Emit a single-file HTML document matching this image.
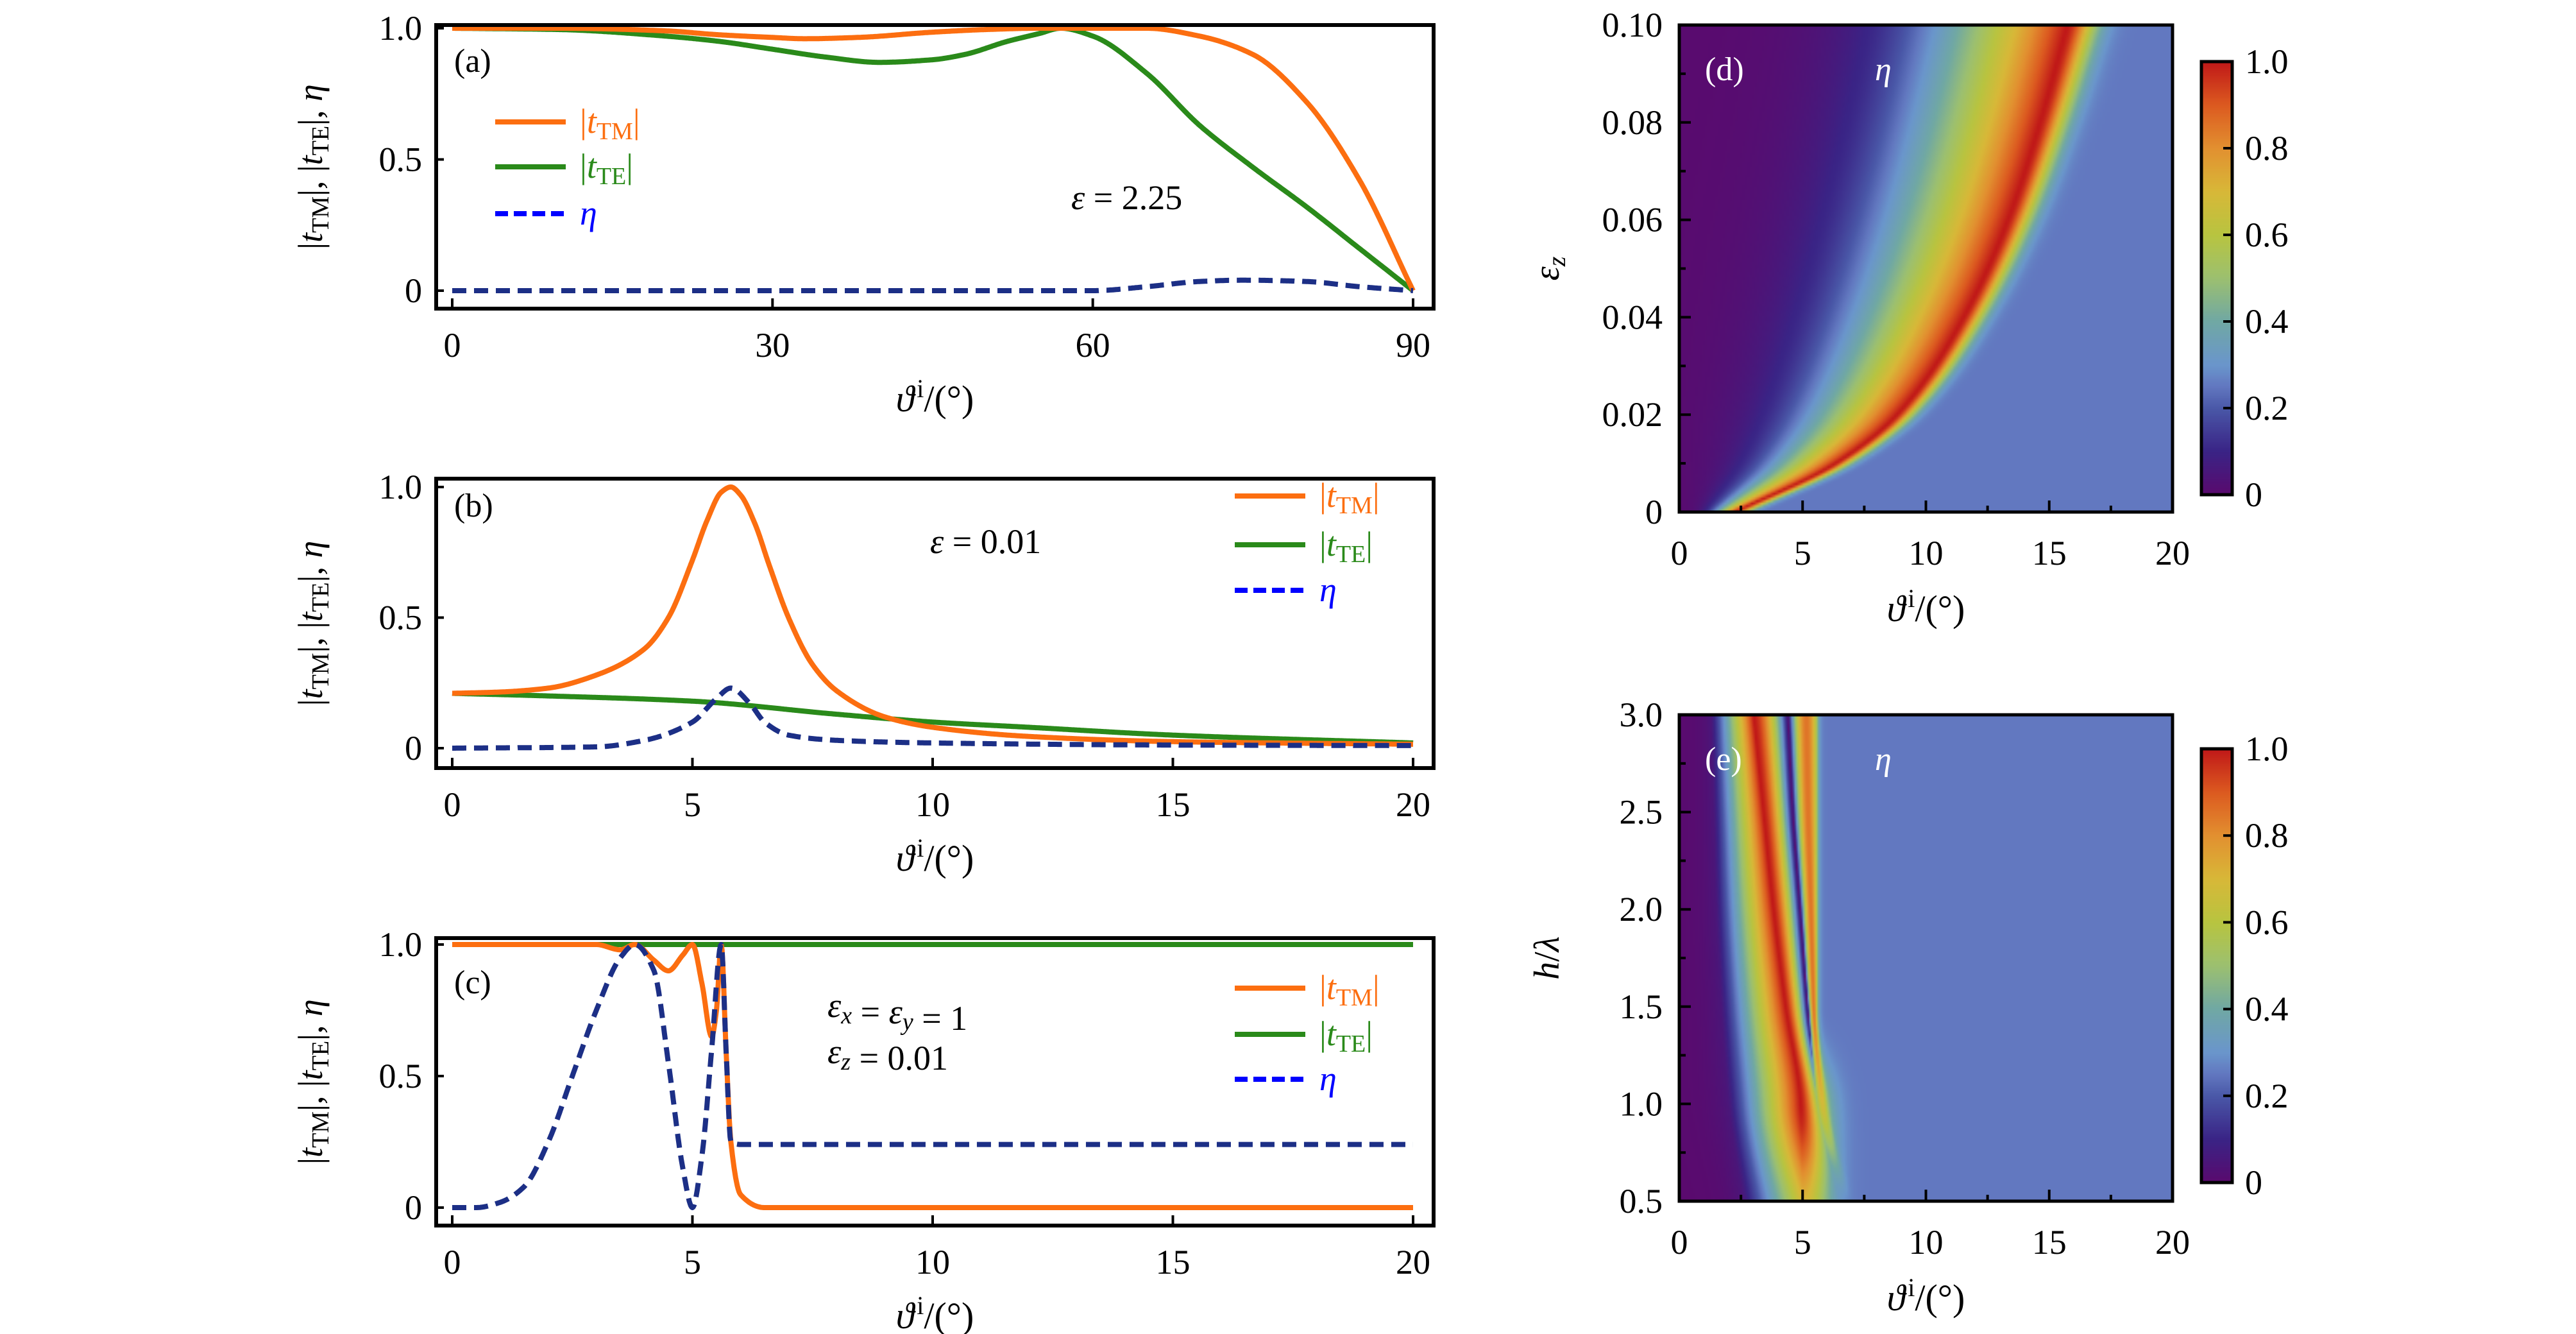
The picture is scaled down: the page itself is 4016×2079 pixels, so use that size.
<!DOCTYPE html>
<html><head><meta charset="utf-8">
<style>
html,body{margin:0;padding:0;background:#fff;}
#wrap{position:relative;width:4016px;height:2079px;overflow:hidden;background:#fff;}
canvas{position:absolute;image-rendering:auto;}
svg{position:absolute;left:0;top:0;}
text{font-family:"Liberation Serif",serif;}
</style></head>
<body>
<div id="wrap">
<canvas id="cd" width="200" height="200"></canvas>
<canvas id="ce" width="300" height="200"></canvas>
<canvas id="cbd" width="4" height="200"></canvas>
<canvas id="cbe" width="4" height="200"></canvas>
<svg id="svg" width="4016" height="2079" xmlns="http://www.w3.org/2000/svg"></svg>
</div>
<script>
// ---------- data ----------
const aX   = [0,10,20,25,30,33,38,45,50,55,60,65,70,75,80,85,90];
const aTM  = [1,1,0.99,0.975,0.965,0.96,0.965,0.985,0.995,1,1,1,0.97,0.9,0.72,0.42,0];
const aTEx = [0,10,20,25,30,35,40,45,48,52,55,57,60,65,70,75,80,85,90];
const aTE  = [1,0.995,0.97,0.95,0.92,0.89,0.87,0.88,0.9,0.95,0.98,1.0,0.97,0.83,0.63,0.47,0.32,0.16,0];
const aEtaX= [0,30,60,65,70,74,80,85,90];
const aEta = [0,0,0,0.015,0.035,0.04,0.035,0.015,0];

const bX   = [0,1,2,3,4,4.5,5,5.3,5.6,5.8,6,6.3,6.6,7,7.5,8,9,10,12,15,20];
const bTM  = [0.21,0.215,0.23,0.28,0.38,0.5,0.72,0.87,0.98,1.0,0.97,0.86,0.7,0.5,0.32,0.22,0.12,0.08,0.045,0.025,0.015];
const bTEx = [0,2,5,8,10,12,15,20];
const bTE  = [0.21,0.2,0.18,0.13,0.1,0.08,0.05,0.02];
const bEtaX= [0,3,4,5,5.5,5.8,6.2,6.5,7,8,10,15,20];
const bEta = [0,0.005,0.03,0.1,0.19,0.23,0.17,0.1,0.05,0.03,0.02,0.012,0.01];

const cX   = [0,3,3.5,3.8,4.2,4.5,4.8,5.0,5.2,5.4,5.5,5.6,5.7,5.8,6.0,6.5,20];
const cTM  = [1,1,0.98,1.0,0.94,0.9,0.96,1.0,0.85,0.65,0.75,1.0,0.6,0.25,0.05,0,0];
const cTEx = [0,20];
const cTE  = [1,1];
const cEtaX= [0,0.5,1,1.5,2,2.5,3,3.5,3.8,4.2,4.5,4.8,5.0,5.2,5.4,5.6,5.7,5.8,6,20];
const cEta = [0,0,0.02,0.08,0.25,0.5,0.75,0.95,1.0,0.9,0.55,0.15,0,0.2,0.6,1.0,0.6,0.25,0.24,0.24];

// heatmap d: ridge (red) position and left dark edge per eps_z row
const dEps   = [0,0.01,0.02,0.04,0.06,0.08,0.10];
const dRidge = [2.2,6.3,8.8,11.5,13.3,14.6,15.7];
const dLeft  = [1.0,2.4,3.3,4.6,5.7,6.7,7.6];
// heatmap e: per h/lambda row
const eH     = [0.5,1.0,1.5,2.0,2.5,3.0];
const eRidge = [5.0,4.9,4.3,3.8,3.4,3.0];
const eLeft  = [2.6,2.0,1.7,1.5,1.4,1.3];
const eNotch = [6.5,5.6,5.2,4.9,4.6,4.4];
const eDepth = [0,0.3,1,1,1,1];
const ePeak  = [0.7,1.0,1.0,1.0,1.0,1.0];
const eCut   = [7.0,6.0,5.6,5.6,5.6,5.6];

const cmapV = [0,0.1,0.2,0.25,0.3,0.4,0.5,0.6,0.7,0.8,0.9,1.0];
const cmapC = ['#5a0a6e','#3a2486','#4a58a8','#6278c0','#6a96cc','#70a8a4','#9cc070','#b8c440','#d8b838','#e29030','#dc5a20','#c01818'];

// ---------- helpers ----------
const NS='http://www.w3.org/2000/svg';
const svg=document.getElementById('svg');
function el(tag,attrs,parent){const e=document.createElementNS(NS,tag);for(const k in attrs)e.setAttribute(k,attrs[k]);(parent||svg).appendChild(e);return e;}
// monotone cubic (Fritsch-Carlson) interpolation
function mono(xs,ys){
  const n=xs.length;if(n<3)return x=>{if(x<=xs[0])return ys[0];if(x>=xs[n-1])return ys[n-1];const t=(x-xs[0])/(xs[1]-xs[0]);return ys[0]+t*(ys[1]-ys[0]);};
  const d=[],m=[];for(let i=0;i<n-1;i++)d.push((ys[i+1]-ys[i])/(xs[i+1]-xs[i]));
  m[0]=d[0];m[n-1]=d[n-2];
  for(let i=1;i<n-1;i++){if(d[i-1]*d[i]<=0)m[i]=0;else{const w1=2*(xs[i+1]-xs[i])+(xs[i]-xs[i-1]),w2=(xs[i+1]-xs[i])+2*(xs[i]-xs[i-1]);m[i]=(w1+w2)/(w1/d[i-1]+w2/d[i]);}}
  return x=>{if(x<=xs[0])return ys[0];if(x>=xs[n-1])return ys[n-1];let i=0;while(x>xs[i+1])i++;
    const h=xs[i+1]-xs[i],t=(x-xs[i])/h,t2=t*t,t3=t2*t;
    return (2*t3-3*t2+1)*ys[i]+(t3-2*t2+t)*h*m[i]+(-2*t3+3*t2)*ys[i+1]+(t3-t2)*h*m[i+1];};
}
function hex(c){return [parseInt(c.substr(1,2),16),parseInt(c.substr(3,2),16),parseInt(c.substr(5,2),16)];}
const cmapRGB=cmapC.map(hex);
function cmap(v){v=Math.max(0,Math.min(1,v));for(let i=1;i<cmapV.length;i++){if(v<=cmapV[i]){const t=(v-cmapV[i-1])/(cmapV[i]-cmapV[i-1]);const a=cmapRGB[i-1],b=cmapRGB[i];return [a[0]+t*(b[0]-a[0]),a[1]+t*(b[1]-a[1]),a[2]+t*(b[2]-a[2])];}}return cmapRGB[cmapRGB.length-1];}

const ORANGE='#fc6e10',GREEN='#2a8a1a',NAVY='#1c2f86',BLUE='#0000ff';

function linePanel(cfg){
  const {L,R,T,B,x0px,x1px,x1,y0px,y1px,xticks,yticks,yticklabels,id}=cfg;
  const sx=x=>x0px+(x1px-x0px)*x/x1, sy=y=>y0px+(y1px-y0px)*y;
  const g=el('g',{});
  
  
  const clipId='clip'+id;
  const cp=el('clipPath',{id:clipId},g);el('rect',{x:L,y:T-20,width:R-L,height:B-T+20},cp);
  const series=[[cfg.teX,cfg.te,GREEN,null,'te'],[cfg.tmX,cfg.tm,ORANGE,null,'tm'],[cfg.etaX,cfg.eta,NAVY,'22 12','eta']];
  for(const s of series){
    const f=mono(s[0],s[1]);const N=1200;let d='';
    for(let k=0;k<=N;k++){const x=x1*k/N;d+=(k?' L':'M')+sx(x).toFixed(1)+','+sy(f(x)).toFixed(1);}
    const p=el('path',{d:d,fill:'none',stroke:s[2],'stroke-width':8,'clip-path':'url(#'+clipId+')','stroke-linejoin':'round'},g);
    if(s[3])p.setAttribute('stroke-dasharray',s[3]);
    
    
  }
  const fr=el('rect',{x:L,y:T,width:R-L,height:B-T,fill:'none',stroke:'#000','stroke-width':6},g);
  
  
  xticks.forEach(v=>{
    el('line',{x1:sx(v),x2:sx(v),y1:B,y2:B-16,stroke:'#000','stroke-width':4},g);
    const t=el('text',{x:sx(v),y:B+75,'font-size':54,'text-anchor':'middle'},g);t.textContent=v;
    
    
  });
  yticks.forEach((v,i)=>{
    el('line',{x1:L,x2:L+12,y1:sy(v),y2:sy(v),stroke:'#000','stroke-width':4},g);
    const t=el('text',{x:L-22,y:sy(v)+18,'font-size':54,'text-anchor':'end'},g);t.textContent=yticklabels[i];
    
    
  });
  const xl=el('text',{x:(L+R)/2,y:B+160,'font-size':58,'text-anchor':'middle'},g);
  xl.innerHTML='<tspan font-style="italic">ϑ</tspan><tspan font-size="40" dx="4" dy="-22">i</tspan><tspan dy="22">/(°)</tspan>';
  
  
  const yc=(T+B)/2;
  const yl=el('text',{x:0,y:0,'font-size':54,'text-anchor':'middle',transform:'translate('+(L-178)+','+yc+') rotate(-90)'},g);
  yl.innerHTML='|<tspan font-style="italic">t</tspan><tspan font-size="38" dy="10">TM</tspan><tspan dy="-10">|, |</tspan><tspan font-style="italic">t</tspan><tspan font-size="38" dy="10">TE</tspan><tspan dy="-10">|, </tspan><tspan font-style="italic">η</tspan>';
  
  
  const pl=el('text',{x:L+28,y:cfg.labelY,'font-size':52},g);pl.textContent='('+id+')';
  
  
  const lg=el('g',{},g);
  
  
  const items=[[ORANGE,null,'TM'],[GREEN,null,'TE'],[BLUE,'20 9','eta']];
  items.forEach((it,i)=>{
    const y=cfg.legY[i];
    const ln=el('line',{x1:cfg.legX,x2:cfg.legX+110,y1:y,y2:y,stroke:it[0],'stroke-width':8},lg);
    if(it[1])ln.setAttribute('stroke-dasharray',it[1]);
    const t=el('text',{x:cfg.legX+132,y:y+17,'font-size':54,fill:it[0]},lg);
    if(it[2]==='eta')t.innerHTML='<tspan font-style="italic">η</tspan>';
    else t.innerHTML='|<tspan font-style="italic">t</tspan><tspan font-size="38" dy="10">'+it[2]+'</tspan><tspan dy="-10">|</tspan>';
    
    
  });
  cfg.notes.forEach(n=>{
    const t=el('text',{x:n[0],y:n[1],'font-size':54,'text-anchor':n[3]||'start'},g);t.innerHTML=n[2];
    
    
  });
}

const eps=s=>'<tspan font-style="italic">ε</tspan>'+(s?'<tspan font-size="38" font-style="italic" dy="10">'+s+'</tspan><tspan dy="-10"></tspan>':'');

linePanel({id:'a',L:680,R:2235,T:39,B:481,x0px:705,x1px:2203,x1:90,y0px:453,y1px:44,
  xticks:[0,30,60,90],yticks:[0,0.5,1],yticklabels:['0','0.5','1.0'],
  tmX:aX,tm:aTM,teX:aTEx,te:aTE,etaX:aEtaX,eta:aEta,labelY:112,legX:772,legY:[190,260,333],
  notes:[[1670,326,eps('')+' = 2.25']]});
linePanel({id:'b',L:680,R:2235,T:746,B:1197,x0px:705,x1px:2203,x1:20,y0px:1166,y1px:759,
  xticks:[0,5,10,15,20],yticks:[0,0.5,1],yticklabels:['0','0.5','1.0'],
  tmX:bX,tm:bTM,teX:bTEx,te:bTE,etaX:bEtaX,eta:bEta,labelY:805,legX:1925,legY:[773,849,920],
  notes:[[1450,862,eps('')+' = 0.01']]});
linePanel({id:'c',L:680,R:2235,T:1462,B:1910,x0px:705,x1px:2203,x1:20,y0px:1882,y1px:1472,
  xticks:[0,5,10,15,20],yticks:[0,0.5,1],yticklabels:['0','0.5','1.0'],
  tmX:cX,tm:cTM,teX:cTEx,te:cTE,etaX:cEtaX,eta:cEta,labelY:1548,legX:1925,legY:[1540,1612,1682],
  notes:[[1290,1585,eps('x')+' = '+eps('y')+' = 1'],[1290,1657,eps('z')+' = 0.01']]});

// ---------- heatmaps ----------
function heat(canvasId,L,T,W,H,ymin,ymax,f){
  const c=document.getElementById(canvasId);
  c.style.left=L+'px';c.style.top=T+'px';c.style.width=W+'px';c.style.height=H+'px';
  const ctx=c.getContext('2d');const im=ctx.createImageData(c.width,c.height);
  for(let j=0;j<c.height;j++){const y=ymax-(j+0.5)/c.height*(ymax-ymin);
    for(let i=0;i<c.width;i++){const x=(i+0.5)/c.width*20;const rgb=cmap(f(x,y));const k=(j*c.width+i)*4;
      im.data[k]=rgb[0];im.data[k+1]=rgb[1];im.data[k+2]=rgb[2];im.data[k+3]=255;}}
  ctx.putImageData(im,0,0);
}
const dR=mono(dEps,dRidge),dL=mono(dEps,dLeft);
function fD(x,e){
  const xr=dR(e),xl=dL(e);
  if(x<xr){const t=(x-xl)/(xr-xl);if(t<0)return 0.1*Math.exp(t*4);return 0.1+0.9*Math.pow(t,1.4);}
  const w=0.55+e*6;return 0.25+0.75*Math.exp(-Math.pow((x-xr)/w,2));
}
const eR=mono(eH,eRidge),eL=mono(eH,eLeft),eN=mono(eH,eNotch),eS=mono(eH,eDepth),eP=mono(eH,ePeak),eC=mono(eH,eCut);
function fE(x,h){
  const xr=eR(h),xl=eL(h),xn=eN(h),s=eS(h),pk=eP(h),xc=eC(h);
  if(x<xr){const t=(x-xl)/(xr-xl);if(t<0)return 0.05*Math.exp(t*4);return 0.05+(pk-0.05)*Math.pow(t,1.1);}
  const smooth=0.25+(pk-0.25)*Math.exp(-Math.pow((x-xr)/1.1,2));
  let notch;
  if(x<xn){notch=pk*(1-Math.pow((x-xr)/(xn-xr),1.6)*0.98);}
  else if(x<xc){notch=0.85*Math.sin(Math.PI*(x-xn)/(xc-xn)*0.8);}
  else{const end=0.85*Math.sin(Math.PI*0.8);notch=0.25+(end-0.25)*Math.exp(-(x-xc)/0.08);}
  return s*notch+(1-s)*smooth;
}
heat('cd',2618,39,769,759,0,0.1,fD);
heat('ce',2618,1114,769,758,0.5,3.0,fE);
function cbar(id,T,B){const c=document.getElementById(id);c.style.left='3432px';c.style.top=T+'px';c.style.width='48px';c.style.height=(B-T)+'px';
  const ctx=c.getContext('2d');for(let j=0;j<c.height;j++){const rgb=cmap(1-(j+0.5)/c.height);ctx.fillStyle='rgb('+rgb.map(Math.round).join(',')+')';ctx.fillRect(0,j,4,1);}}
cbar('cbd',96,771);cbar('cbe',1167,1843);

function heatAxes(id,L,T,W,H,ymin,ymax,yt,ytl,yminor,ylabel,cbT,cbB){
  const g=el('g',{});
  
  
  const sx=x=>L+W*x/20,sy=y=>T+H-(y-ymin)/(ymax-ymin)*H;
  [0,5,10,15,20].forEach(v=>{el('line',{x1:sx(v),x2:sx(v),y1:T+H,y2:T+H-18,stroke:'#000','stroke-width':4},g);
    const t=el('text',{x:sx(v),y:T+H+82,'font-size':54,'text-anchor':'middle'},g);t.textContent=v;
    
    });
  [2.5,7.5,12.5,17.5].forEach(v=>el('line',{x1:sx(v),x2:sx(v),y1:T+H,y2:T+H-10,stroke:'#000','stroke-width':4},g));
  yt.forEach((v,i)=>{el('line',{x1:L,x2:L+18,y1:sy(v),y2:sy(v),stroke:'#000','stroke-width':4},g);
    const t=el('text',{x:L-26,y:sy(v)+18,'font-size':54,'text-anchor':'end'},g);t.textContent=ytl[i];
    
    });
  yminor.forEach(v=>el('line',{x1:L,x2:L+10,y1:sy(v),y2:sy(v),stroke:'#000','stroke-width':4},g));
  el('rect',{x:L,y:T,width:W,height:H,fill:'none',stroke:'#000','stroke-width':5},g);
  const xl=el('text',{x:L+W/2,y:T+H+170,'font-size':58,'text-anchor':'middle'},g);
  xl.innerHTML='<tspan font-style="italic">ϑ</tspan><tspan font-size="40" dx="4" dy="-22">i</tspan><tspan dy="22">/(°)</tspan>';
  
  
  const yl=el('text',{x:0,y:0,'font-size':56,'text-anchor':'middle',transform:'translate('+(L-188)+','+(T+H/2)+') rotate(-90)'},g);
  yl.innerHTML=ylabel;
  
  
  const pl=el('text',{x:L+40,y:T+86,'font-size':52,fill:'#fff'},g);pl.textContent='('+id+')';
  
  
  const et=el('text',{x:L+305,y:T+86,'font-size':52,fill:'#fff','font-style':'italic'},g);et.textContent='η';
  
  
  el('rect',{x:3432,y:cbT,width:48,height:cbB-cbT,fill:'none',stroke:'#000','stroke-width':5},g);
  [0,0.2,0.4,0.6,0.8,1.0].forEach(v=>{const y=cbB-(cbB-cbT)*v;
    if(v>0&&v<1)el('line',{x1:3466,x2:3480,y1:y,y2:y,stroke:'#000','stroke-width':4},g);
    const t=el('text',{x:3500,y:y+18,'font-size':54},g);t.textContent=v===0?'0':v.toFixed(1);
    
    });
}
heatAxes('d',2618,39,769,759,0,0.1,[0,0.02,0.04,0.06,0.08,0.1],['0','0.02','0.04','0.06','0.08','0.10'],[0.01,0.03,0.05,0.07,0.09],
  '<tspan font-style="italic">ε</tspan><tspan font-size="40" font-style="italic" dy="10">z</tspan>',96,771);
heatAxes('e',2618,1114,769,758,0.5,3.0,[0.5,1,1.5,2,2.5,3],['0.5','1.0','1.5','2.0','2.5','3.0'],[0.75,1.25,1.75,2.25,2.75],
  '<tspan font-style="italic">h</tspan>/<tspan font-style="italic">λ</tspan>',1167,1843);
</script>
</body></html>
